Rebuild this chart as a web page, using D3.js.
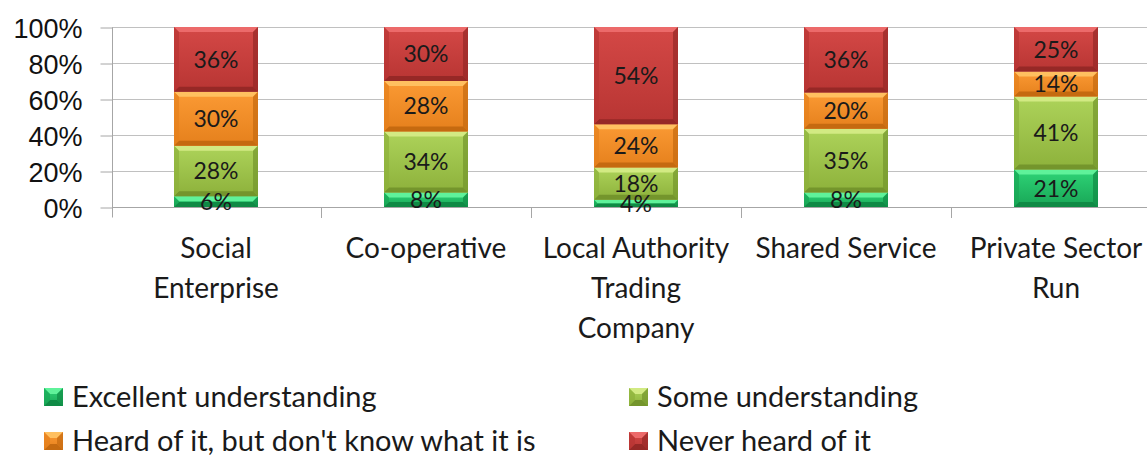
<!doctype html>
<html>
<head>
  <script src="https://d3js.org/d3.v7.min.js"></script>
  <style>
  body { margin: 0; background: #fff; }
  svg { font-family: Lato, "Open Sans", sans-serif; }
  .grid line { stroke: #c0c0c0; }
  .axis path, .axis line { stroke: #a6a6a6; }
  .axis text { fill: #111; }
  .lbl { fill: #1a1a1a; }
  </style>
</head>
<body>
<script>
// chart values
var categories = ["Social Enterprise", "Co-operative", "Local Authority Trading Company", "Shared Service", "Private Sector Run"];
var categoryLines = [["Social", "Enterprise"], ["Co-operative"], ["Local Authority", "Trading", "Company"], ["Shared Service"], ["Private Sector", "Run"]];
var seriesNames = ["Excellent understanding", "Some understanding", "Heard of it, but don't know what it is", "Never heard of it"];
var excellent = [6, 8, 4, 8, 21];
var some = [28, 34, 18, 35, 41];
var heard = [30, 28, 24, 20, 14];
var never = [36, 30, 54, 36, 25];
var yTicks = [0, 0.2, 0.4, 0.6, 0.8, 1];

// colours per series: [highlight, top, bottom, edge]
var palette = [
  ["#5ff29a", "#2fd477", "#18a656", "#0f8a45"],
  ["#d2ea83", "#add35a", "#8db13b", "#74952c"],
  ["#ffc060", "#fb9a34", "#e5801c", "#c56a10"],
  ["#ec6a6a", "#d44846", "#b83533", "#962826"]
];

var W = 1147, H = 457;
var svg = d3.select("body").append("svg").attr("width", W).attr("height", H);

var x = d3.scaleBand().domain(categories).range([111, 1161]).paddingInner(0.6).paddingOuter(0.3);
var step = x.step();
var y = d3.scaleLinear().domain([0, 1]).range([207, 27]);

var rows = categories.map(function(c, i) {
  var vals = [excellent[i], some[i], heard[i], never[i]];
  var total = d3.sum(vals);
  var o = {cat: c};
  vals.forEach(function(v, k) { o["s" + k] = v / total; o["v" + k] = v; });
  return o;
});
var stack = d3.stack().keys(["s0", "s1", "s2", "s3"])(rows);

var defs = svg.append("defs");
palette.forEach(function(p, k) {
  var g = defs.append("linearGradient").attr("id", "g" + k).attr("x1", 0).attr("y1", 0).attr("x2", 0).attr("y2", 1);
  g.append("stop").attr("offset", "0%").attr("stop-color", p[1]);
  g.append("stop").attr("offset", "100%").attr("stop-color", p[2]);
});

// gridlines
svg.append("g").attr("class", "grid")
  .selectAll("line").data(yTicks.slice(1)).join("line")
  .attr("x1", 112).attr("x2", W).attr("y1", function(d) { return Math.round(y(d)) + 0.5; }).attr("y2", function(d) { return Math.round(y(d)) + 0.5; });

// y axis
var yAxis = d3.axisLeft(y).tickValues(yTicks).tickFormat(d3.format(".0%")).tickSize(12).tickPadding(18);
svg.append("g").attr("class", "axis").attr("transform", "translate(112.5,0.5)").call(yAxis)
  .call(function(g) { g.select(".domain").attr("d", "M0," + y(1) + "V" + (y(0) + 10)); })
  .selectAll("text").style("font-size", "27px").attr("dy", "0.36em");

// x axis baseline and category dividers
var xg = svg.append("g").attr("class", "axis");
xg.append("line").attr("x1", 112).attr("x2", W).attr("y1", y(0) + 0.5).attr("y2", y(0) + 0.5);
xg.selectAll(".div").data(categories.slice(1)).join("line").attr("class", "div")
  .attr("x1", function(d) { return Math.round(x(d) - step * 0.3) + 0.5; })
  .attr("x2", function(d) { return Math.round(x(d) - step * 0.3) + 0.5; })
  .attr("y1", y(0)).attr("y2", y(0) + 11);

// category labels
svg.append("g").selectAll("text").data(categories).join("text")
  .attr("class", "lbl")
  .attr("text-anchor", "middle")
  .style("font-size", "28px")
  .attr("x", function(d) { return x(d) + x.bandwidth() / 2; })
  .attr("y", 258)
  .each(function(d, i) {
    var t = d3.select(this);
    categoryLines[i].forEach(function(line, j) {
      t.append("tspan").attr("x", x(d) + x.bandwidth() / 2).attr("dy", j ? 40 : 0).text(line);
    });
  });

// bevelled segments
function bevel(g, x0, y0, w, h, k, bev) {
  var p = palette[k], x1 = x0 + w, y1 = y0 + h, b = Math.min(bev, h / 2);
  g.append("rect").attr("x", x0).attr("y", y0).attr("width", w).attr("height", h).attr("fill", "url(#g" + k + ")");
  g.append("polygon").attr("points", [[x0, y0], [x1, y0], [x1 - b, y0 + b], [x0 + b, y0 + b]].join(" ")).attr("fill", p[0]);
  g.append("polygon").attr("points", [[x0, y1], [x1, y1], [x1 - b, y1 - b], [x0 + b, y1 - b]].join(" ")).attr("fill", p[3]);
  g.append("polygon").attr("points", [[x0, y0], [x0 + b, y0 + b], [x0 + b, y1 - b], [x0, y1]].join(" ")).attr("fill", p[2]).attr("opacity", 0.7);
  g.append("polygon").attr("points", [[x1, y0], [x1 - b, y0 + b], [x1 - b, y1 - b], [x1, y1]].join(" ")).attr("fill", p[3]).attr("opacity", 0.7);
}

var bars = svg.append("g");
stack.forEach(function(layer, k) {
  layer.forEach(function(d) {
    var x0 = x(d.data.cat), w = x.bandwidth();
    var yt = y(d[1]), yb = y(d[0]);
    bevel(bars.append("g"), x0, yt, w, yb - yt, k, 5);
  });
});

// data labels
stack.forEach(function(layer, k) {
  bars.append("g").selectAll("text").data(layer).join("text")
    .attr("class", "lbl")
    .attr("text-anchor", "middle")
    .style("font-size", "23px")
    .attr("x", function(d) { return x(d.data.cat) + x.bandwidth() / 2; })
    .attr("y", function(d) { return (y(d[0]) + y(d[1])) / 2; })
    .attr("dy", "0.36em")
    .text(function(d) { return d.data["v" + k] + "%"; });
});

// legend
var legendPos = [[44, 397], [629, 397], [44, 441], [629, 441]];
var leg = svg.append("g").selectAll("g").data(seriesNames).join("g")
  .attr("transform", function(d, i) { return "translate(" + legendPos[i][0] + "," + legendPos[i][1] + ")"; });
leg.each(function(d, i) { bevel(d3.select(this), 0, -9, 19, 18, i, 6); });
leg.append("text").attr("class", "lbl").attr("x", 28).attr("dy", "0.34em").style("font-size", "29px").text(function(d) { return d; });
</script>
</body>
</html>
